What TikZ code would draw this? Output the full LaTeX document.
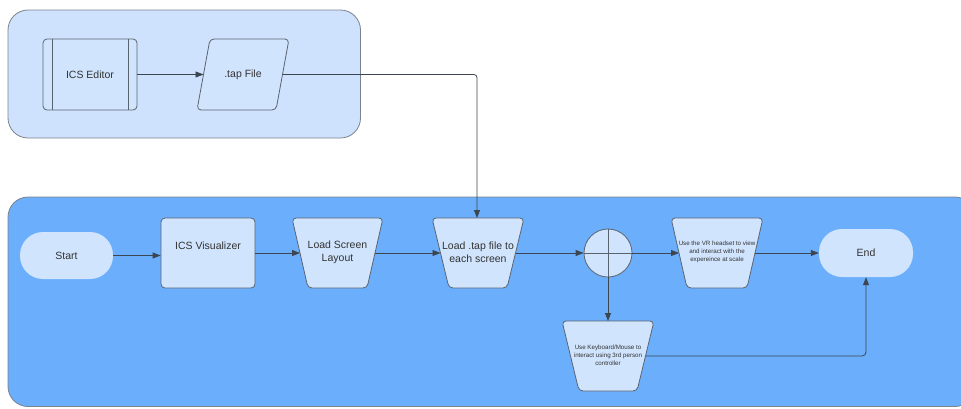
\documentclass[tikz,border=0pt]{standalone}
\usepackage{fontspec}
\setmainfont{Liberation Sans}
\usetikzlibrary{arrows.meta}
\definecolor{outerA}{HTML}{CFE2FD}
\definecolor{outerB}{HTML}{6BAEFC}
\definecolor{nodefill}{HTML}{D0E4FD}
\definecolor{edgec}{HTML}{5A6470}
\definecolor{linec}{HTML}{3C4650}
\definecolor{txt}{HTML}{333333}
\pgfdeclarelayer{bg}
\pgfdeclarelayer{shp}
\pgfsetlayers{bg,shp,main}
\newcommand\trapshape[2]{%
  \begin{pgfonlayer}{shp}
  \draw[shapebox, rounded corners=4pt] ([xshift=-#2]#1.north west) -- ([xshift=#2]#1.north east) -- ([xshift=-#2]#1.south east) -- ([xshift=#2]#1.south west) -- cycle;
  \end{pgfonlayer}}
\begin{document}
\begin{tikzpicture}[x=1pt,y=-1pt,
  container/.style={draw=edgec!80, line width=0.8pt, rounded corners=20pt},
  shapebox/.style={draw=edgec, fill=nodefill, line width=0.8pt},
  ghost/.style={inner sep=0pt, outer sep=0pt},
  conn/.style={draw=linec, line width=0.8pt, -{Triangle[length=8pt,width=6pt]}},
  lbl/.style={text=txt, font=\fontsize{10.5}{13}\selectfont, align=center},
  small/.style={text=txt, font=\fontsize{6.2}{8}\selectfont, align=center}]
\useasboundingbox (0,0) rectangle (961,408);

% containers
\begin{pgfonlayer}{bg}
\draw[container, fill=outerA] (8,10) rectangle (360.5,138);
\draw[container, fill=outerB] (8,197) rectangle (975,406.5);
\end{pgfonlayer}

% top group
\node[shapebox, rounded corners=4pt, minimum width=94pt, minimum height=71pt, lbl] (editor) at (90,74.5) {ICS Editor};
\draw[edgec, line width=0.8pt] ([xshift=10pt]editor.north west) -- ([xshift=10pt]editor.south west);
\draw[edgec, line width=0.8pt] ([xshift=-9pt]editor.north east) -- ([xshift=-9pt]editor.south east);

\node[ghost, minimum width=79pt, minimum height=71pt, lbl] (tap) at (243,74.5) {.tap File};
\begin{pgfonlayer}{shp}
\draw[shapebox, rounded corners=4pt] ([xshift=6.5pt]tap.north west) -- ([xshift=6.5pt]tap.north east) -- ([xshift=-6.5pt]tap.south east) -- ([xshift=-6.5pt]tap.south west) -- cycle;
\end{pgfonlayer}

% bottom group
\node[fill=nodefill, rounded corners=23pt, minimum width=93pt, minimum height=47pt, lbl] (start) at (66.5,255.5) {Start};
\node[shapebox, rounded corners=4pt, minimum width=94pt, minimum height=70pt, lbl] (vis) at (208,253) {ICS Visualizer\\[2pt]};

\node[ghost, minimum width=75pt, minimum height=70pt] (ls) at (337.5,253) {};
\trapshape{ls}{8pt}
\node[lbl] at ([yshift=1pt]ls.center) {Load Screen\\Layout};

\node[ghost, minimum width=75pt, minimum height=70pt] (lt) at (478,253) {};
\trapshape{lt}{8.5pt}
\node[lbl] at ([yshift=1pt]lt.center) {Load .tap file to\\each screen};

\node[shapebox, circle, minimum size=48pt, inner sep=0pt] (hub) at (608,253) {};
\draw[edgec, line width=0.8pt] (hub.north) -- (hub.south);
\draw[edgec, line width=0.8pt] (hub.west) -- (hub.east);

\node[ghost, minimum width=76pt, minimum height=70pt] (vr) at (717,253) {};
\trapshape{vr}{8pt}
\node[small] at ([yshift=1pt]vr.center) {Use the VR headset to view\\and interact with the\\expereince at scale};

\node[ghost, minimum width=75pt, minimum height=70pt] (kb) at (608,356) {};
\trapshape{kb}{8.5pt}
\node[small] at ([yshift=1pt]kb.center) {Use Keyboard/Mouse to\\interact using 3rd person\\controller};

\node[fill=nodefill, rounded corners=23pt, minimum width=94pt, minimum height=48pt, lbl] (end) at (866,253) {End};

% connectors
\draw[conn] (editor.east) -- (tap.west);
\draw[conn, rounded corners=3pt] (tap.east) -| ([xshift=-1pt]lt.north);
\draw[conn] (start.east) -- (start.east -| vis.west);
\draw[conn] (vis.east) -- (ls.west);
\draw[conn] (ls.east) -- (lt.west);
\draw[conn] (lt.east) -- (hub.west);
\draw[conn] (hub.east) -- (vr.west);
\draw[conn] (vr.east) -- (end.west);
\draw[conn] (hub.south) -- (kb.north);
\draw[conn, rounded corners=4pt] (kb.east) -| (end.south);
\end{tikzpicture}
\end{document}
